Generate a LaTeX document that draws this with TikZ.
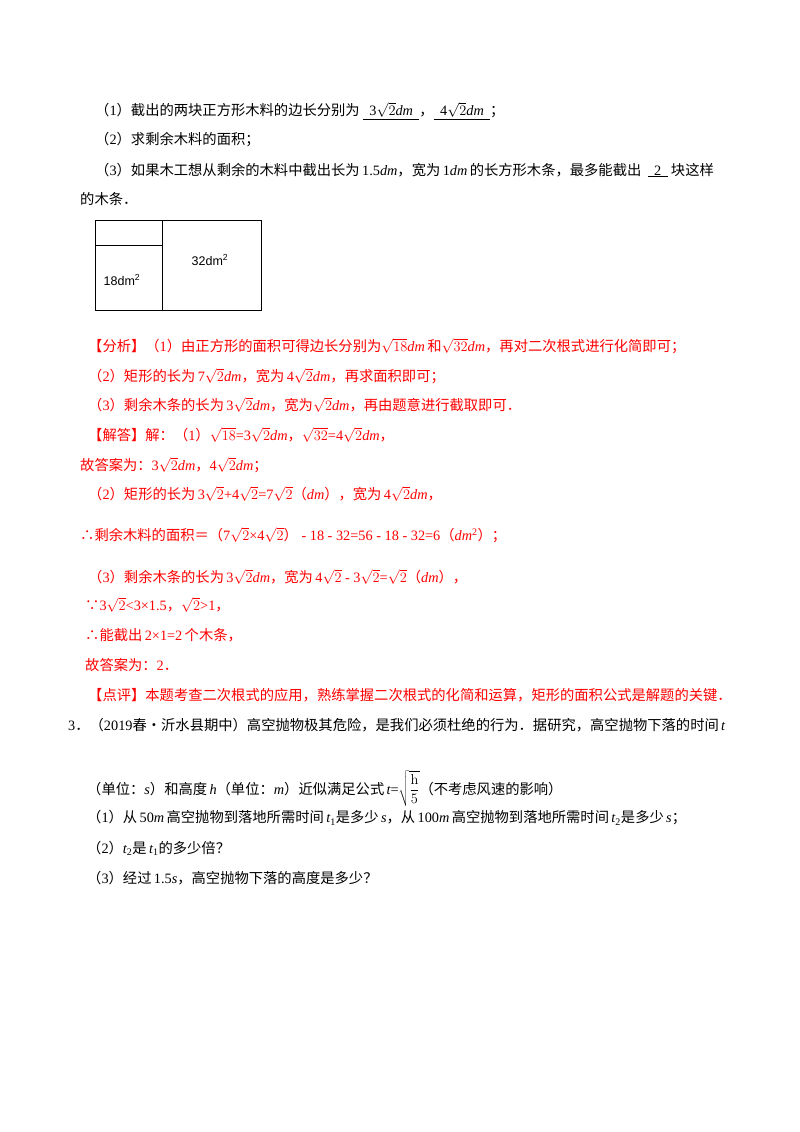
\documentclass[tikz,border=0pt]{standalone}
\usepackage[no-math]{fontspec}
\setmainfont{Noto Sans CJK SC}
\newfontfamily\lt{Liberation Serif}
\newfontfamily\ls{Liberation Sans}
\newcommand{\zl}[1]{{\lt #1}}
\newcommand{\zi}[1]{{\lt\itshape #1}}
\newcommand{\rt}[1]{$\sqrt{\mathrm{#1}}$}
\begin{document}
\begin{tikzpicture}[x=1pt,y=-1pt,
  t/.style={anchor=west,inner sep=0pt,font=\fontsize{14.3}{16}\selectfont},
  r/.style={t,text=red},
  lbl/.style={inner sep=0pt,font=\ls\fontsize{12.5}{14}\selectfont}]
\useasboundingbox (0,0) rectangle (800,1132);
\node[t] (l1) at (95,111) {（\zl{1}）截出的两块正方形木料的边长分别为\ \underline{\ \ \zl{3}\rt{2}\zi{dm}\ \ }，\underline{\ \ \zl{4}\rt{2}\zi{dm}\ \ }；};
\node[t] (l2) at (95,140) {（\zl{2}）求剩余木料的面积；};
\node[t] (l3) at (95,170) {（\zl{3}）如果木工想从剩余的木料中截出长为\,\zl{1.5}\zi{dm}，宽为\,\zl{1}\zi{dm}\,的长方形木条，最多能截出\ \ \underline{\ \ \zl{2}\ \ }\ 块这样};
\node[t] (l4) at (80,199) {的木条．};
% diagram
\draw[thick] (95,220) rectangle (261,310);
\draw[thick] (162,220) -- (162,310);
\draw[thick] (95,245) -- (162,245);
\node[lbl] (a32) at (210,260) {32dm\textsuperscript{2}};
\node[lbl] (a18) at (122,280) {18dm\textsuperscript{2}};
% analysis
\node[r] (r1) at (88,346) {【分析】（\zl{1}）由正方形的面积可得边长分别为\rt{18}\zi{dm}\,和\rt{32}\zi{dm}，再对二次根式进行化简即可；};
\node[r] (r2) at (88,376) {（\zl{2}）矩形的长为\,\zl{7}\rt{2}\zi{dm}，宽为\,\zl{4}\rt{2}\zi{dm}，再求面积即可；};
\node[r] (r3) at (88,405) {（\zl{3}）剩余木条的长为\,\zl{3}\rt{2}\zi{dm}，宽为\rt{2}\zi{dm}，再由题意进行截取即可．};
\node[r] (r4) at (88,435) {【解答】解：（\zl{1}）\rt{18}\zl{=3}\rt{2}\zi{dm}，\rt{32}\zl{=4}\rt{2}\zi{dm}，};
\node[r] (r5) at (80,465) {故答案为：\zl{3}\rt{2}\zi{dm}，\zl{4}\rt{2}\zi{dm}；};
\node[r] (r6) at (88,494) {（\zl{2}）矩形的长为\,\zl{3}\rt{2}\zl{+4}\rt{2}\zl{=7}\rt{2}（\zi{dm}），宽为\,\zl{4}\rt{2}\zi{dm}，};
\node[r] (r7) at (80,535) {∴剩余木料的面积＝（\zl{7}\rt{2}\zl{×4}\rt{2}）\zl{ - 18 - 32=56 - 18 - 32=6}（\zi{dm}\textsuperscript{\zl{2}}）；};
\node[r] (r8) at (88,577) {（\zl{3}）剩余木条的长为\,\zl{3}\rt{2}\zi{dm}，宽为\,\zl{4}\rt{2}\zl{ - 3}\rt{2}\zl{=}\rt{2}（\zi{dm}），};
\node[r] (r9) at (85,605) {∵\zl{3}\rt{2}\zl{<3×1.5}，\rt{2}\zl{>1}，};
\node[r] (r10) at (85,635) {∴能截出\,\zl{2×1=2}\,个木条，};
\node[r] (r11) at (85,665) {故答案为：\zl{2}．};
\node[r] (r12) at (88,695) {【点评】本题考查二次根式的应用，熟练掌握二次根式的化简和运算，矩形的面积公式是解题的关键．};
% question 3
\node[t] (q1) at (68,725) {\zl{3}．（\zl{2019}春•沂水县期中）高空抛物极其危险，是我们必须杜绝的行为．据研究，高空抛物下落的时间\,\zi{t}};
\node[t,anchor=base west] (q2) at (87,794) {（单位：\zi{s}）和高度\,\zi{h}（单位：\zi{m}）近似满足公式\,\zi{t}\zl{=}$\sqrt{\displaystyle\frac{\mathrm{h}}{5}}$（不考虑风速的影响）};
\node[t] (q3) at (87,818) {（\zl{1}）从\,\zl{50}\zi{m}\,高空抛物到落地所需时间\,\zi{t}\textsubscript{\zl{1}}是多少\,\zi{s}，从\,\zl{100}\zi{m}\,高空抛物到落地所需时间\,\zi{t}\textsubscript{\zl{2}}是多少\,\zi{s}；};
\node[t] (q4) at (87,848) {（\zl{2}）\zi{t}\textsubscript{\zl{2}}是\,\zi{t}\textsubscript{\zl{1}}的多少倍？};
\node[t] (q5) at (87,878) {（\zl{3}）经过\,\zl{1.5}\zi{s}，高空抛物下落的高度是多少？};
\end{tikzpicture}
\end{document}
